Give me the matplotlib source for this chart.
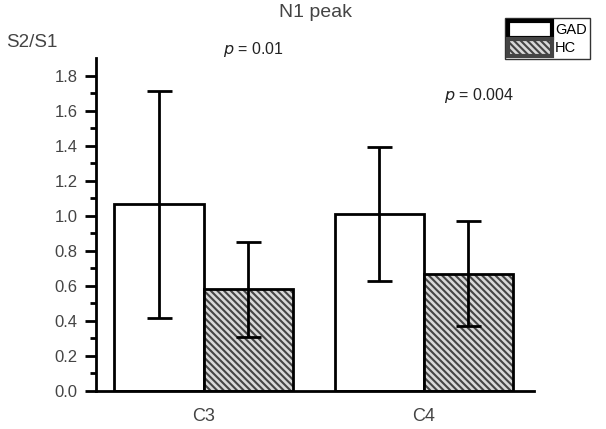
import matplotlib.pyplot as plt
from matplotlib.patches import Patch
import numpy as np

plt.rcParams['font.family'] = ['Liberation Sans', 'DejaVu Sans']
plt.rcParams['hatch.linewidth'] = 1.5

# ---- data ----
channels = ['C3', 'C4']
gad_mean = [1.065, 1.01]
gad_err = [0.65, 0.38]
hc_mean = [0.58, 0.67]
hc_err = [0.27, 0.30]
p_labels = ['0.01', '0.004']

x = np.arange(len(channels))
w = 0.405
hatch_pat = '\\\\\\\\\\'

fig = plt.figure(figsize=(6.06, 4.29), dpi=100)
ax = fig.add_axes([0.158, 0.0886, 0.723, 0.776])

# GAD bars (white)
ax.bar(x - w / 2, gad_mean, w, color='white', edgecolor='black', linewidth=2, zorder=2)
# HC bars: hatched fill then black outline
ax.bar(x + w / 2, hc_mean, w, color='#d8d8d8', edgecolor='#444444', hatch=hatch_pat,
       linewidth=0, zorder=2)
ax.bar(x + w / 2, hc_mean, w, color='none', edgecolor='black', linewidth=2, zorder=3)

# error bars
ax.errorbar(x - w / 2, gad_mean, yerr=gad_err, fmt='none', ecolor='black',
            elinewidth=2, capsize=9, capthick=2, zorder=4)
ax.errorbar(x + w / 2, hc_mean, yerr=hc_err, fmt='none', ecolor='black',
            elinewidth=2, capsize=9, capthick=2, zorder=4)

ax.set_xlim(-0.49, 1.5)
ax.set_ylim(0, 1.9)
ax.set_xticks(x)
ax.set_xticklabels(channels)
ax.set_yticks(np.arange(0, 1.81, 0.2))
ax.set_yticklabels(['%.1f' % v for v in np.arange(0, 1.81, 0.2)])
ax.set_yticks(np.arange(0.1, 1.9, 0.2), minor=True)

for s in ['top', 'right']:
    ax.spines[s].set_visible(False)
for s in ['left', 'bottom']:
    ax.spines[s].set_linewidth(2)
ax.tick_params(axis='y', which='major', length=8, width=2, direction='out', pad=5,
               labelsize=12, labelcolor='#444444')
ax.tick_params(axis='y', which='minor', length=4, width=2, direction='out')
ax.tick_params(axis='x', length=0, pad=12, labelsize=13, labelcolor='#444444')

# p-values
ax.text(0.225, 1.95, r'$p$ = ' + p_labels[0], ha='center', va='center',
        fontsize=11.5, color='#222222', clip_on=False)
ax.text(1.25, 1.685, r'$p$ = ' + p_labels[1], ha='center', va='center',
        fontsize=11.5, color='#222222', clip_on=False)

fig.text(0.52, 0.972, 'N1 peak', ha='center', va='center', fontsize=14, color='#444444')
fig.text(0.01, 0.9, 'S2/S1', ha='left', va='center', fontsize=13.5, color='#444444')

handles = [Patch(facecolor='white', edgecolor='black', linewidth=3),
           Patch(facecolor='#d8d8d8', edgecolor='#444444', hatch=hatch_pat, linewidth=3)]
leg = fig.legend(handles, ['GAD', 'HC'], loc='upper left', bbox_to_anchor=(0.834, 0.958),
                 frameon=True, fancybox=False, edgecolor='black', fontsize=10.5,
                 handlelength=3.0, handleheight=1.45, handletextpad=0.2,
                 borderpad=0.2, labelspacing=0.05, borderaxespad=0)
leg.get_frame().set_linewidth(1)

fig.savefig('out.png', dpi=100)
